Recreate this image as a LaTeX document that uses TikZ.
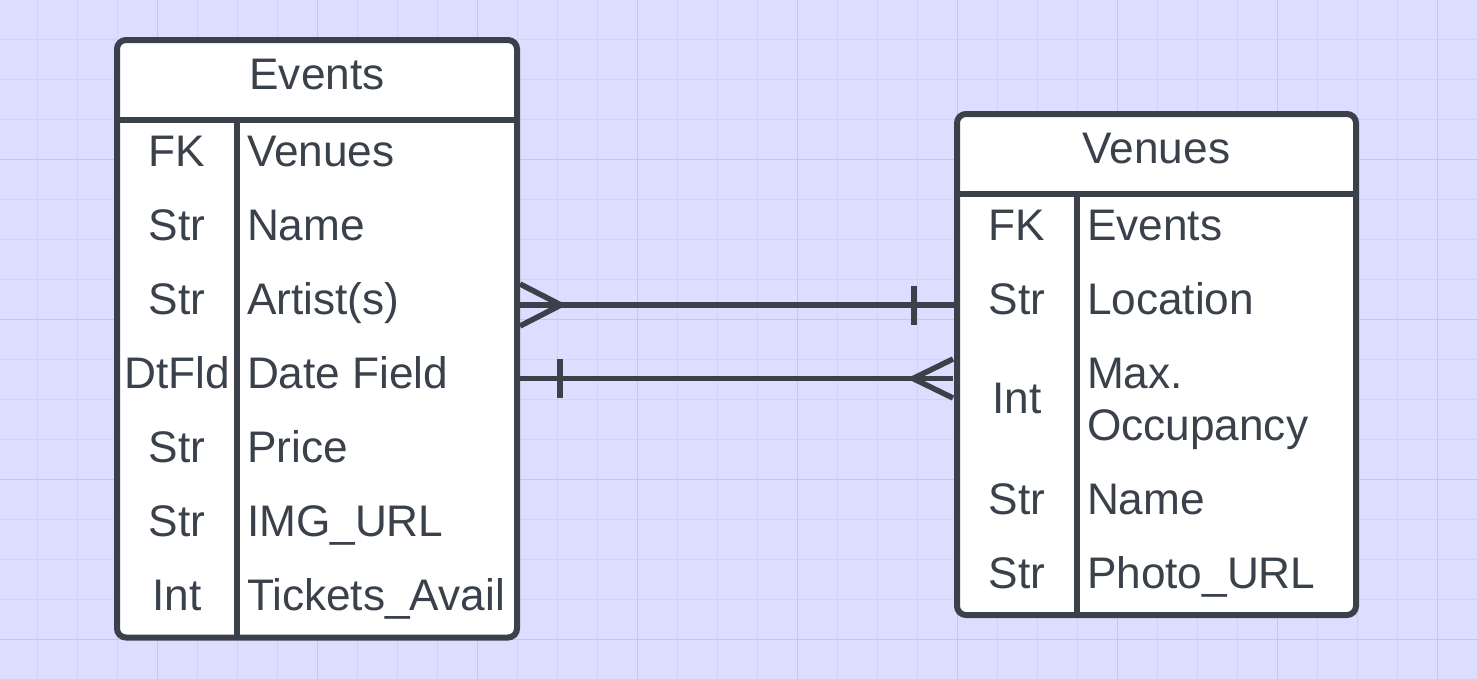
\documentclass[tikz,border=0pt]{standalone}
\usepackage{fontspec}
\setmainfont{Liberation Sans}
\usetikzlibrary{calc}
\definecolor{ink}{HTML}{3A414A}
\definecolor{bg}{HTML}{DDDDFF}
\definecolor{gridminor}{HTML}{D2D2F2}
\definecolor{gridmajor}{HTML}{C6C6E8}
\begin{document}
\begin{tikzpicture}[x=1pt,y=-1pt,
  every node/.style={inner sep=0pt, outer sep=0pt},
  txt/.style={text=ink, font=\fontsize{44.2}{53}\selectfont},
  tbl/.style={draw=ink, line width=6pt, fill=white, rounded corners=9pt, rectangle},
  sep/.style={draw=ink, line width=6pt},
  conn/.style={draw=ink, line width=5.5pt},
  gmin/.style={draw=gridminor, line width=1pt},
  gmaj/.style={draw=gridmajor, line width=1pt},
]
\useasboundingbox (0,0) rectangle (1478,680);
\fill[bg] (0,0) rectangle (1478,680);
% grid
\foreach \x in {37,77,117,197,237,277,357,397,437,517,557,597,677,717,757,837,877,917,997,1037,1077,1157,1197,1237,1317,1357,1397,1477}
  \draw[gmin] (\x,0) -- (\x,680);
\foreach \y in {39,79,119,199,239,279,359,399,439,519,559,599,679}
  \draw[gmin] (0,\y) -- (1478,\y);
\foreach \x in {157,317,477,637,797,957,1117,1277,1437}
  \draw[gmaj] (\x,0) -- (\x,680);
\foreach \y in {159,319,479,639}
  \draw[gmaj] (0,\y) -- (1478,\y);

% Events table
\node[tbl, minimum width=400pt, minimum height=597.5pt, anchor=north west] (events) at (117,40) {};
\draw[sep] (events.west |- 0,120) -- (events.east |- 0,120);
\draw[sep] (237,120) -- (237,637.5);
\node[txt, anchor=base] (eh) at (317,89.5) {Events};
\node[txt, anchor=base] (et1) at (177,166.5) {FK};
\node[txt, anchor=base] (et2) at (177,240.5) {Str};
\node[txt, anchor=base] (et3) at (177,314.5) {Str};
\node[txt, anchor=base] (et4) at (177,388.5) {DtFld};
\node[txt, anchor=base] (et5) at (177,462.5) {Str};
\node[txt, anchor=base] (et6) at (177,536.5) {Str};
\node[txt, anchor=base] (et7) at (177,610.5) {Int};
\node[txt, anchor=base west] (en1) at (247,166.5) {Venues};
\node[txt, anchor=base west] (en2) at (247,240.5) {Name};
\node[txt, anchor=base west] (en3) at (247,314.5) {Artist(s)};
\node[txt, anchor=base west] (en4) at (247,388.5) {Date Field};
\node[txt, anchor=base west] (en5) at (247,462.5) {Price};
\node[txt, anchor=base west] (en6) at (247,536.5) {IMG\_URL};
\node[txt, anchor=base west] (en7) at (247,610.5) {Tickets\_Avail};

% Venues table
\node[tbl, minimum width=399pt, minimum height=501pt, anchor=north west] (venues) at (957,114) {};
\draw[sep] (venues.west |- 0,193.7) -- (venues.east |- 0,193.7);
\draw[sep] (1077,193.7) -- (1077,615);
\node[txt, anchor=base] (vh) at (1156.5,163) {Venues};
\node[txt, anchor=base] (vt1) at (1017,240.5) {FK};
\node[txt, anchor=base] (vt2) at (1017,314.5) {Str};
\node[txt, anchor=base] (vt3) at (1017,413) {Int};
\node[txt, anchor=base] (vt4) at (1017,514) {Str};
\node[txt, anchor=base] (vt5) at (1017,588) {Str};
\node[txt, anchor=base west] (vn1) at (1087,240.5) {Events};
\node[txt, anchor=base west] (vn2) at (1087,314.5) {Location};
\node[txt, anchor=base west] (vn3a) at (1087,388.3) {Max.};
\node[txt, anchor=base west] (vn3b) at (1087,440) {Occupancy};
\node[txt, anchor=base west] (vn4) at (1087,514) {Name};
\node[txt, anchor=base west] (vn5) at (1087,588) {Photo\_URL};

% connectors
\coordinate (ya) at (0,305);
\coordinate (yb) at (0,378.5);
% Events (many) -- Venues (one)
\draw[conn] ($(events.east |- ya)+(3,0)$) -- (venues.west |- ya);
\draw[conn] ($(events.east |- ya)+(3,-21)$) -- ($(events.east |- ya)+(44,0)$) -- ($(events.east |- ya)+(3,21)$);
\draw[conn] ($(venues.west |- ya)+(-43,-19.5)$) -- ($(venues.west |- ya)+(-43,19.5)$);
% Events (one) -- Venues (many)
\draw[conn] (events.east |- yb) -- ($(venues.west |- yb)+(-4,0)$);
\draw[conn] ($(events.east |- yb)+(43,-19.5)$) -- ($(events.east |- yb)+(43,19.5)$);
\draw[conn] ($(venues.west |- yb)+(-4,-19.5)$) -- ($(venues.west |- yb)+(-44,0)$) -- ($(venues.west |- yb)+(-4,19.5)$);
\end{tikzpicture}
\end{document}
